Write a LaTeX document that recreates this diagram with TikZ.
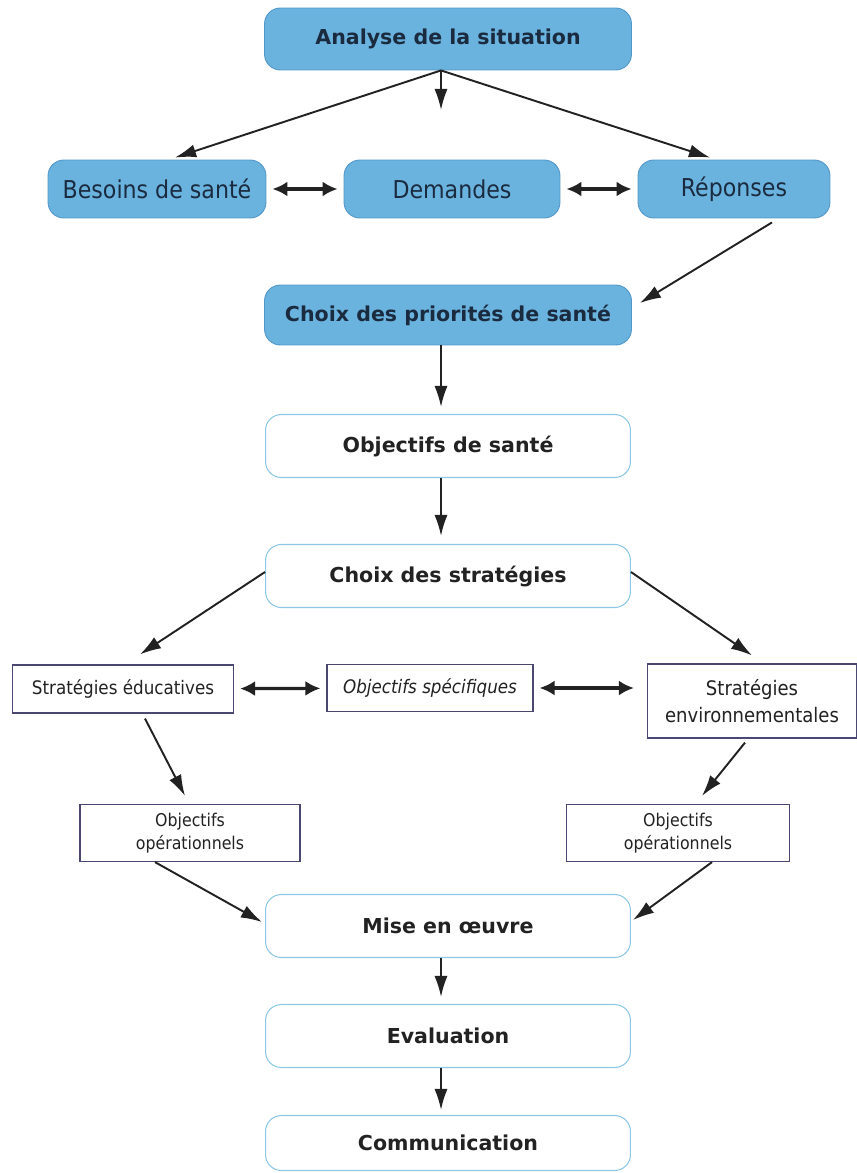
\documentclass[tikz,border=0pt]{standalone}
\usepackage{fontspec}
\setmainfont{DejaVu Sans}
\newfontfamily\condfont{DejaVu Sans Condensed}
\usepackage{xcolor}
\usepackage{tikz}
\usetikzlibrary{arrows.meta,shapes,positioning}
\tikzset{>={Latex[length=12pt,width=7.5pt]}}
\definecolor{skyfill}{RGB}{107,179,223}
\definecolor{skyline}{RGB}{80,150,200}
\definecolor{paleline}{RGB}{140,200,230}
\definecolor{slateline}{RGB}{74,72,112}
\definecolor{navytext}{RGB}{27,43,63}
\definecolor{inktext}{RGB}{34,34,34}

\begin{document}
\begin{tikzpicture}[x=0.02cm,y=-0.02cm,
                    bluebox/.style={rounded corners=9pt, fill=skyfill, draw=skyline, line width=0.5pt, text=navytext, inner sep=0pt},
                    titlebox/.style={bluebox, minimum width=7.34cm, font=\bfseries\fontsize{11.7}{14}\selectfont},
                    rowbox/.style={bluebox, minimum height=1.16cm, font=\condfont\fontsize{14}{16}\selectfont},
                    whitebox/.style={rounded corners=9pt, fill=white, draw=paleline, line width=0.6pt, text=inktext, inner sep=0pt, minimum width=7.3cm, minimum height=1.26cm, font=\bfseries\fontsize{11.7}{14}\selectfont},
                    plainbox/.style={draw=slateline, line width=0.7pt, fill=white, text=inktext, align=center, inner sep=0pt, font=\condfont\fontsize{10.6}{14}\selectfont},
                    arr/.style={->, line width=1.1pt, draw=inktext},
                    twoway/.style={{Latex[length=8.5pt,width=8.5pt]}-{Latex[length=8.5pt,width=8.5pt]}, line width=1.8pt, draw=inktext, shorten <=0.12cm, shorten >=0.12cm},
                   ]

\useasboundingbox (0,0) rectangle (857,1173);

% analyse
\node[titlebox, minimum height=1.24cm] (ana) at (448,39) {Analyse de la situation};
\node[rowbox, minimum width=4.36cm] (bes) at (157,189) {Besoins de santé};
\node[rowbox, minimum width=4.32cm] (dem) at (452,189) {Demandes};
\node[rowbox, minimum width=3.84cm] (rep) at (734,189) {Réponses};
\node[titlebox, minimum height=1.2cm] (prio) at (448,315) {Choix des priorités de santé};

% objectifs et strategies
\node[whitebox] (obj) at (448,446) {Objectifs de santé};
\node[whitebox] (strat) at (448,576) {Choix des stratégies};
\node[plainbox, minimum width=4.42cm, minimum height=0.96cm] (educ) at (123,689) {Stratégies éducatives};
\node[plainbox, minimum width=4.12cm, minimum height=0.94cm, font=\condfont\itshape\fontsize{10.6}{14}\selectfont] (spec) at (430,688) {Objectifs spécifiques};
\node[plainbox, minimum width=4.18cm, minimum height=1.48cm, font=\condfont\fontsize{11.4}{15}\selectfont] (env) at (752,701) {Stratégies\\environnementales};
\node[plainbox, minimum width=4.4cm, minimum height=1.14cm, font=\condfont\fontsize{10}{13}\selectfont] (opl) at (190,833) {Objectifs\\opérationnels};
\node[plainbox, minimum width=4.46cm, minimum height=1.14cm, font=\condfont\fontsize{10}{13}\selectfont] (opr) at (678,833) {Objectifs\\opérationnels};

% suite
\node[whitebox] (mise) at (448,926) {Mise en œuvre};
\node[whitebox] (eval) at (448,1036) {Evaluation};
\node[whitebox, minimum height=1.1cm] (comm) at (448,1143) {Communication};

\coordinate (axis) at (441,0);
\coordinate (anadown) at (441,110);

\draw[arr] ([xshift=-0.14cm]ana.south) -- ([xshift=0.36cm,yshift=0.04cm]bes.north);
\draw[arr] ([xshift=-0.14cm]ana.south) -- (anadown);
\draw[arr] ([xshift=-0.14cm]ana.south) -- ([xshift=-0.48cm,yshift=0.04cm]rep.north);
\draw[twoway] (bes) -- (dem);
\draw[twoway] (dem) -- (rep);
\draw[arr] ([xshift=0.76cm,yshift=-0.08cm]rep.south) -- ([xshift=0.16cm,yshift=0.24cm]prio.east);

\draw[arr, shorten >=0.14cm] (prio.south -| axis) -- (obj.north -| axis);
\draw[arr, shorten >=0.16cm] (obj.south -| axis) -- (strat.north -| axis);
\draw[arr] ([yshift=0.08cm]strat.west) -- ([xshift=0.34cm,yshift=0.2cm]educ.north);
\draw[arr] ([yshift=0.08cm]strat.east) -- ([yshift=0.16cm]env.north);
\draw[twoway] (educ) -- (spec);
\draw[twoway, shorten >=0.26cm] (spec.east) -- (spec.east -| env.west);

\draw[arr] ([xshift=0.44cm,yshift=-0.1cm]educ.south) -- ([xshift=-0.1cm,yshift=0.16cm]opl.north);
\draw[arr] ([xshift=-0.14cm,yshift=-0.08cm]env.south) -- ([xshift=0.48cm,yshift=0.16cm]opr.north);
\draw[arr] ([xshift=-0.7cm]opl.south) -- ([xshift=-0.06cm,yshift=0.08cm]mise.west);
\draw[arr] ([xshift=0.68cm]opr.south) -- ([xshift=0.04cm,yshift=0.12cm]mise.east);

\draw[arr, shorten >=0.14cm] (mise.south -| axis) -- (eval.north -| axis);
\draw[arr, shorten >=0.1cm] (eval.south -| axis) -- (comm.north -| axis);

\end{tikzpicture}
\end{document}
